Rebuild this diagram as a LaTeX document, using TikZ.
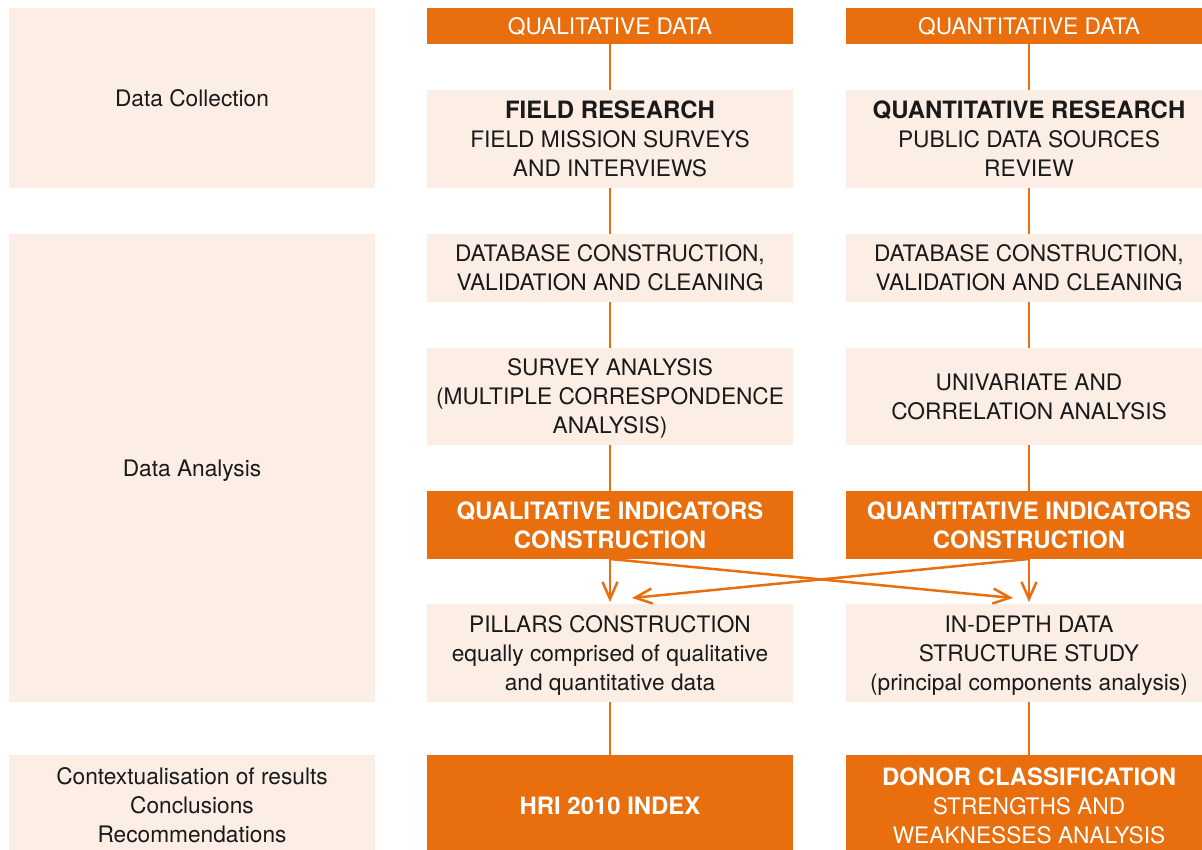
\documentclass[tikz,border=0pt]{standalone}
\usepackage{fontspec}
\setmainfont{TeX Gyre Heros}
\usetikzlibrary{arrows.meta,positioning,calc}
\definecolor{hriorange}{RGB}{232,110,14}
\definecolor{hripeach}{RGB}{252,238,229}
\definecolor{hritext}{RGB}{26,26,26}
\newcommand{\hribf}{\fontsize{23.9}{29}\bfseries\selectfont}
\begin{document}
\begin{tikzpicture}[x=1pt,y=-1pt,
  base/.style={inner sep=0pt,outer sep=0pt,minimum width=366pt,align=center,
    text depth=0pt,font=\fontsize{22.7}{29}\selectfont},
  light/.style={base,fill=hripeach,text=hritext},
  dark/.style={base,fill=hriorange,text=white},
  link/.style={draw=hriorange,line width=2.5pt},
  arr/.style={link,-{Straight Barb[length=17pt,width=15pt,line width=2.5pt]},shorten >=2pt}
]
\useasboundingbox (0,0) rectangle (1202,849);
\clip (0,0) rectangle (1202,849);

% left column
\node[light,minimum height=180pt] (lc) at (192,98) {Data Collection};
\node[light,minimum height=468pt] (la) at (192,468) {Data Analysis};
\node[light,minimum height=101pt] (lr) at (192,805.5) {Contextualisation of results\\Conclusions\\Recommendations};

% middle column
\node[dark,minimum height=36pt] (q1) at (610,26) {QUALITATIVE DATA};
\node[light,minimum height=98pt] (q2) at (610,139) {{\hribf FIELD RESEARCH}\\FIELD MISSION SURVEYS\\AND INTERVIEWS};
\node[light,minimum height=68pt] (q3) at (610,268) {DATABASE CONSTRUCTION,\\VALIDATION AND CLEANING};
\node[light,minimum height=97pt] (q4) at (610,396.5) {SURVEY ANALYSIS\\(MULTIPLE CORRESPONDENCE\\ANALYSIS)};
\node[dark,minimum height=68pt,font=\hribf] (q5) at (610,525) {QUALITATIVE INDICATORS\\CONSTRUCTION};
\node[light,minimum height=98pt] (q6) at (610,653) {PILLARS CONSTRUCTION\\equally comprised of qualitative\\and quantitative data};
\node[dark,minimum height=101pt,font=\hribf] (q7) at (610,805.5) {HRI 2010 INDEX};

% right column
\node[dark,minimum height=36pt] (r1) at (1029,26) {QUANTITATIVE DATA};
\node[light,minimum height=98pt] (r2) at (1029,139) {{\hribf QUANTITATIVE RESEARCH}\\PUBLIC DATA SOURCES\\REVIEW};
\node[light,minimum height=68pt] (r3) at (1029,268) {DATABASE CONSTRUCTION,\\VALIDATION AND CLEANING};
\node[light,minimum height=97pt] (r4) at (1029,396.5) {UNIVARIATE AND\\CORRELATION ANALYSIS};
\node[dark,minimum height=68pt,font=\hribf] (r5) at (1029,525) {QUANTITATIVE INDICATORS\\CONSTRUCTION};
\node[light,minimum height=98pt] (r6) at (1029,653) {IN-DEPTH DATA\\STRUCTURE STUDY\\(principal components analysis)};
\node[dark,minimum height=101pt] (r7) at (1029,805.5) {{\hribf DONOR CLASSIFICATION}\\STRENGTHS AND\\WEAKNESSES ANALYSIS};

% connectors
\draw[link] (q1) -- (q2);
\draw[link] (q2) -- (q3);
\draw[link] (q3) -- (q4);
\draw[link] (q4) -- (q5);
\draw[link] (q6) -- (q7);
\draw[link] (r1) -- (r2);
\draw[link] (r2) -- (r3);
\draw[link] (r3) -- (r4);
\draw[link] (r4) -- (r5);
\draw[link] (r6) -- (r7);

\draw[arr] (q5.south) -- (q6.north);
\draw[arr] (r5.south) -- (r6.north);
\coordinate (xr) at (1013,598);
\coordinate (xl) at (632,598);
\draw[arr,shorten >=0pt] (q5.south) -- (xr);
\draw[arr,shorten >=0pt] (r5.south) -- (xl);
\end{tikzpicture}
\end{document}
